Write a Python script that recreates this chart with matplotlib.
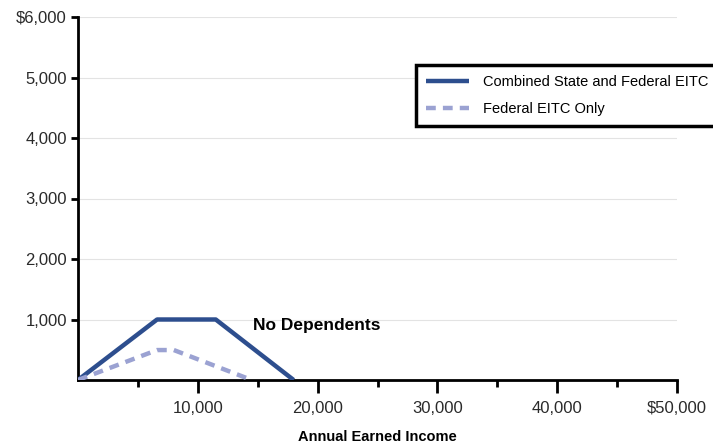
import matplotlib
matplotlib.use("Agg")
import matplotlib.pyplot as plt
from matplotlib.ticker import FixedLocator

plt.rcParams['font.family'] = ['Liberation Sans', 'DejaVu Sans']

# Data
combined_x = [0, 6600, 11500, 18000]
combined_y = [0, 1000, 1000, 0]
federal_x = [0, 6600, 8000, 14500]
federal_y = [0, 495, 495, 0]

x_ticks = [10000, 20000, 30000, 40000, 50000]
x_labels = ["10,000", "20,000", "30,000", "40,000", "$50,000"]
x_minor = [5000, 15000, 25000, 35000, 45000]
y_ticks = [1000, 2000, 3000, 4000, 5000, 6000]
y_labels = ["1,000", "2,000", "3,000", "4,000", "5,000", "$6,000"]

series_names = ["Combined State and Federal EITC", "Federal EITC Only"]
annotation = "No Dependents"
xlabel = "Annual Earned Income"

fig = plt.figure(figsize=(7.13, 4.46), dpi=100)
ax = fig.add_axes([78/713, 1-380/446, 599/713, 363/446])

ax.plot(combined_x, combined_y, color="#2D4E8E", lw=3.2, solid_capstyle="butt",
        label=series_names[0], zorder=3)
ax.plot(federal_x, federal_y, color="#9BA2D2", lw=3.2, ls=(0, (2.2, 1.6)),
        label=series_names[1], zorder=3)

ax.set_xlim(0, 50000)
ax.set_ylim(0, 6000)

ax.set_xticks(x_ticks)
ax.set_xticklabels(x_labels, fontsize=12, color="#2a2a2a")
ax.xaxis.set_minor_locator(FixedLocator(x_minor))
ax.set_yticks(y_ticks)
ax.set_yticklabels(y_labels, fontsize=12, color="#2a2a2a")

ax.tick_params(axis='x', which='major', length=9, width=2, direction='out', pad=6)
ax.tick_params(axis='x', which='minor', length=5, width=2, direction='out')
ax.tick_params(axis='y', which='major', length=5, width=2, direction='out', pad=3)

for s in ['top', 'right']:
    ax.spines[s].set_visible(False)
for s in ['left', 'bottom']:
    ax.spines[s].set_linewidth(2)
    ax.spines[s].set_color("black")

ax.grid(axis='y', color="#e3e3e3", lw=0.8, zorder=0)
ax.set_axisbelow(True)

ax.text(14600, 900, annotation, fontsize=12.5, fontweight='bold', va='center', ha='left')

ax.set_xlabel(xlabel, fontsize=10.5, fontweight='bold', labelpad=10)

leg = ax.legend(loc='upper left', bbox_to_anchor=(0.564, 0.868), fontsize=10.5,
                frameon=True, fancybox=False, framealpha=1, handlelength=2.9,
                handletextpad=1.0, borderpad=0.72, labelspacing=0.85, borderaxespad=0)
leg.get_frame().set_edgecolor("black")
leg.get_frame().set_linewidth(2.5)

fig.savefig("out.png", dpi=100)
